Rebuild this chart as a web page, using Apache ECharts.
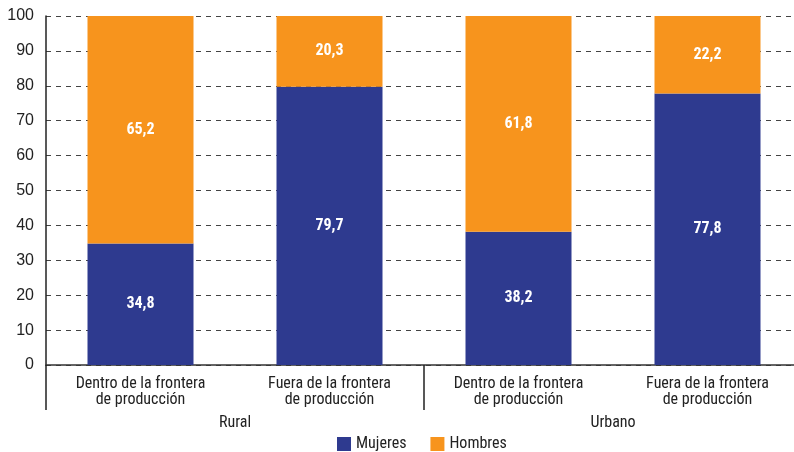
<!DOCTYPE html>
<html>
<head>
<meta charset="utf-8">
<script src="https://cdn.jsdelivr.net/npm/echarts@6/dist/echarts.min.js"></script>
<style>
  html, body { margin: 0; padding: 0; background: #fff; overflow: hidden; }
  #chart { width: 810px; height: 452px; }
</style>
</head>
<body>
<div id="chart"></div>
<script>
// categorias y grupos
var categorias = ['Dentro de la frontera\nde producción', 'Fuera de la frontera\nde producción',
                  'Dentro de la frontera\nde producción', 'Fuera de la frontera\nde producción'];
var grupos = ['Rural', 'Urbano'];
// porcentajes
var mujeres = [34.8, 79.7, 38.2, 77.8];
var hombres = [65.2, 20.3, 61.8, 22.2];

var fuente = "'Liberation Sans Narrow', 'Roboto Condensed', 'Liberation Sans', sans-serif";

function etiqueta(p) {
  return String(p.value.toFixed(1)).replace('.', ',');
}

var chart = echarts.init(document.getElementById('chart'));
var option = {
  animation: false,
  grid: { left: 46, top: 16, right: 8, bottom: 87, containLabel: false },
  legend: {
    top: 431,
    left: 332,
    itemWidth: 14,
    itemHeight: 14,
    itemGap: 24,
    icon: 'rect',
    textStyle: { fontFamily: fuente, fontSize: 16, color: '#222' },
    data: ['Mujeres', 'Hombres']
  },
  xAxis: [
    {
      type: 'category',
      data: categorias,
      axisLine: { lineStyle: { color: '#333', width: 1.5 } },
      axisTick: { show: false },
      axisLabel: { interval: 0, fontFamily: fuente, fontSize: 16, color: '#222', lineHeight: 16, margin: 11 }
    },
    {
      type: 'category',
      data: grupos,
      position: 'bottom',
      offset: 0,
      axisLine: { show: false },
      axisTick: { show: true, interval: 0, length: 45, inside: false, lineStyle: { color: '#222', width: 1.5 } },
      axisLabel: { interval: 0, fontFamily: fuente, fontSize: 16, color: '#222', margin: 50 }
    }
  ],
  yAxis: {
    type: 'value',
    min: 0,
    max: 100,
    interval: 10,
    axisLine: { show: true, lineStyle: { color: '#222', width: 1.5 } },
    axisTick: { show: false },
    axisLabel: { fontFamily: "'Liberation Sans', sans-serif", fontSize: 16, color: '#222', margin: 12 },
    splitLine: { lineStyle: { color: '#444', type: [5, 5], width: 1 } }
  },
  series: [
    {
      name: 'Mujeres',
      type: 'bar',
      stack: 'total',
      barWidth: 106,
      data: mujeres,
      itemStyle: { color: '#2E3A8F' },
      label: { show: true, position: 'inside', color: '#fff', fontWeight: 'bold', fontFamily: fuente, fontSize: 16, formatter: etiqueta }
    },
    {
      name: 'Hombres',
      type: 'bar',
      stack: 'total',
      barWidth: 106,
      data: hombres,
      itemStyle: { color: '#F7941D' },
      label: { show: true, position: 'inside', color: '#fff', fontWeight: 'bold', fontFamily: fuente, fontSize: 16, formatter: etiqueta }
    }
  ]
};
chart.setOption(option);
</script>
</body>
</html>
